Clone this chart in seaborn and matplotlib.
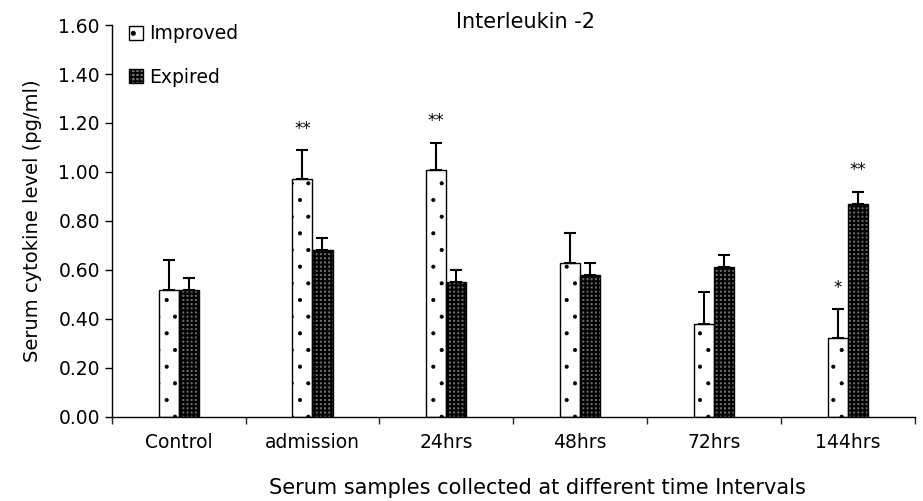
import pandas as pd
import seaborn as sns
import matplotlib.pyplot as plt
from matplotlib.patches import Patch

categories = ["Control", "admission", "24hrs", "48hrs", "72hrs", "144hrs"]
improved = [0.52, 0.97, 1.01, 0.63, 0.38, 0.32]
expired = [0.52, 0.68, 0.55, 0.58, 0.61, 0.87]
improved_err = [0.12, 0.12, 0.11, 0.12, 0.13, 0.12]
expired_err = [0.045, 0.05, 0.05, 0.05, 0.05, 0.05]
stars_improved = ["", "**", "**", "", "", "*"]
stars_expired = ["", "", "", "", "", "**"]

groups = ["Improved", "Expired"]
data = pd.DataFrame({
    "interval": categories * 2,
    "group": ["Improved"] * 6 + ["Expired"] * 6,
    "level": improved + expired,
})

sns.set_style("ticks")
plt.rcParams['font.family'] = ['DejaVu Sans']
plt.rcParams['text.color'] = 'black'
plt.rcParams['axes.labelcolor'] = 'black'
plt.rcParams['hatch.linewidth'] = 1.2

fig = plt.figure(figsize=(9.23, 5.01), dpi=100)
ax = fig.add_axes([0.121, 0.168, 0.870, 0.782])

sns.barplot(data=data, x="interval", y="level", hue="group", order=categories,
            hue_order=groups, errorbar=None, width=0.3, legend=False, ax=ax)

styles = {
    "Improved": dict(face="white", hatch=".", hlw=0.5),
    "Expired": dict(face="#6e6e6e", hatch="++++", hlw=1.5),
}
errs = {"Improved": improved_err, "Expired": expired_err}
stars = {"Improved": stars_improved, "Expired": stars_expired}


def style_patch(p, g):
    p.set_facecolor(styles[g]["face"])
    p.set_hatch(styles[g]["hatch"])
    p.set_edgecolor("black")
    p.set_linewidth(1.0)
    if hasattr(p, "set_hatch_linewidth"):
        p.set_hatch_linewidth(styles[g]["hlw"])


for container, g in zip(ax.containers, groups):
    for i, bar in enumerate(container):
        style_patch(bar, g)
        xc = bar.get_x() + bar.get_width() / 2
        h = bar.get_height()
        ax.errorbar(xc, h, yerr=[[0], [errs[g][i]]], fmt="none", ecolor="black",
                    elinewidth=1.5, capsize=4, capthick=1.5)
        if stars[g][i]:
            ax.text(xc, h + errs[g][i] + 0.05, stars[g][i], ha="center", va="bottom",
                    fontsize=12, color="black")

ax.set_ylim(0, 1.6)
ax.set_yticks([0.2 * k for k in range(9)])
ax.set_yticklabels([f"{0.2 * k:.2f}" for k in range(9)])
ax.set_xlim(-0.5, 5.5)
ax.set_xticks(range(6))
ax.set_xticklabels(categories)
ax.set_xticks([k - 0.5 for k in range(7)], minor=True)
ax.tick_params(axis="x", which="major", length=0, pad=12)
ax.tick_params(axis="x", which="minor", length=5, width=1, direction="out")
ax.tick_params(axis="y", length=5, width=1, direction="out")
ax.tick_params(labelsize=13.5, colors="black")

sns.despine(ax=ax)
for s in ["left", "bottom"]:
    ax.spines[s].set_linewidth(1.0)
    ax.spines[s].set_color("black")

ax.set_xlabel("Serum samples collected at different time Intervals", fontsize=15, labelpad=14)
ax.xaxis.set_label_coords(0.53, -0.155)
ax.set_ylabel("Serum cytokine level (pg/ml)", fontsize=14, labelpad=12)
ax.set_title("Interleukin -2", fontsize=15, y=0.97, x=0.515, color="black")

handles = []
for g in groups:
    p = Patch(label=g)
    style_patch(p, g)
    handles.append(p)
ax.legend(handles=handles, loc="upper left", bbox_to_anchor=(0.0, 1.045), frameon=False,
          fontsize=13.5, handlelength=0.75, handleheight=0.75, handletextpad=0.35,
          labelspacing=1.3)

fig.savefig("out.png", dpi=100)
